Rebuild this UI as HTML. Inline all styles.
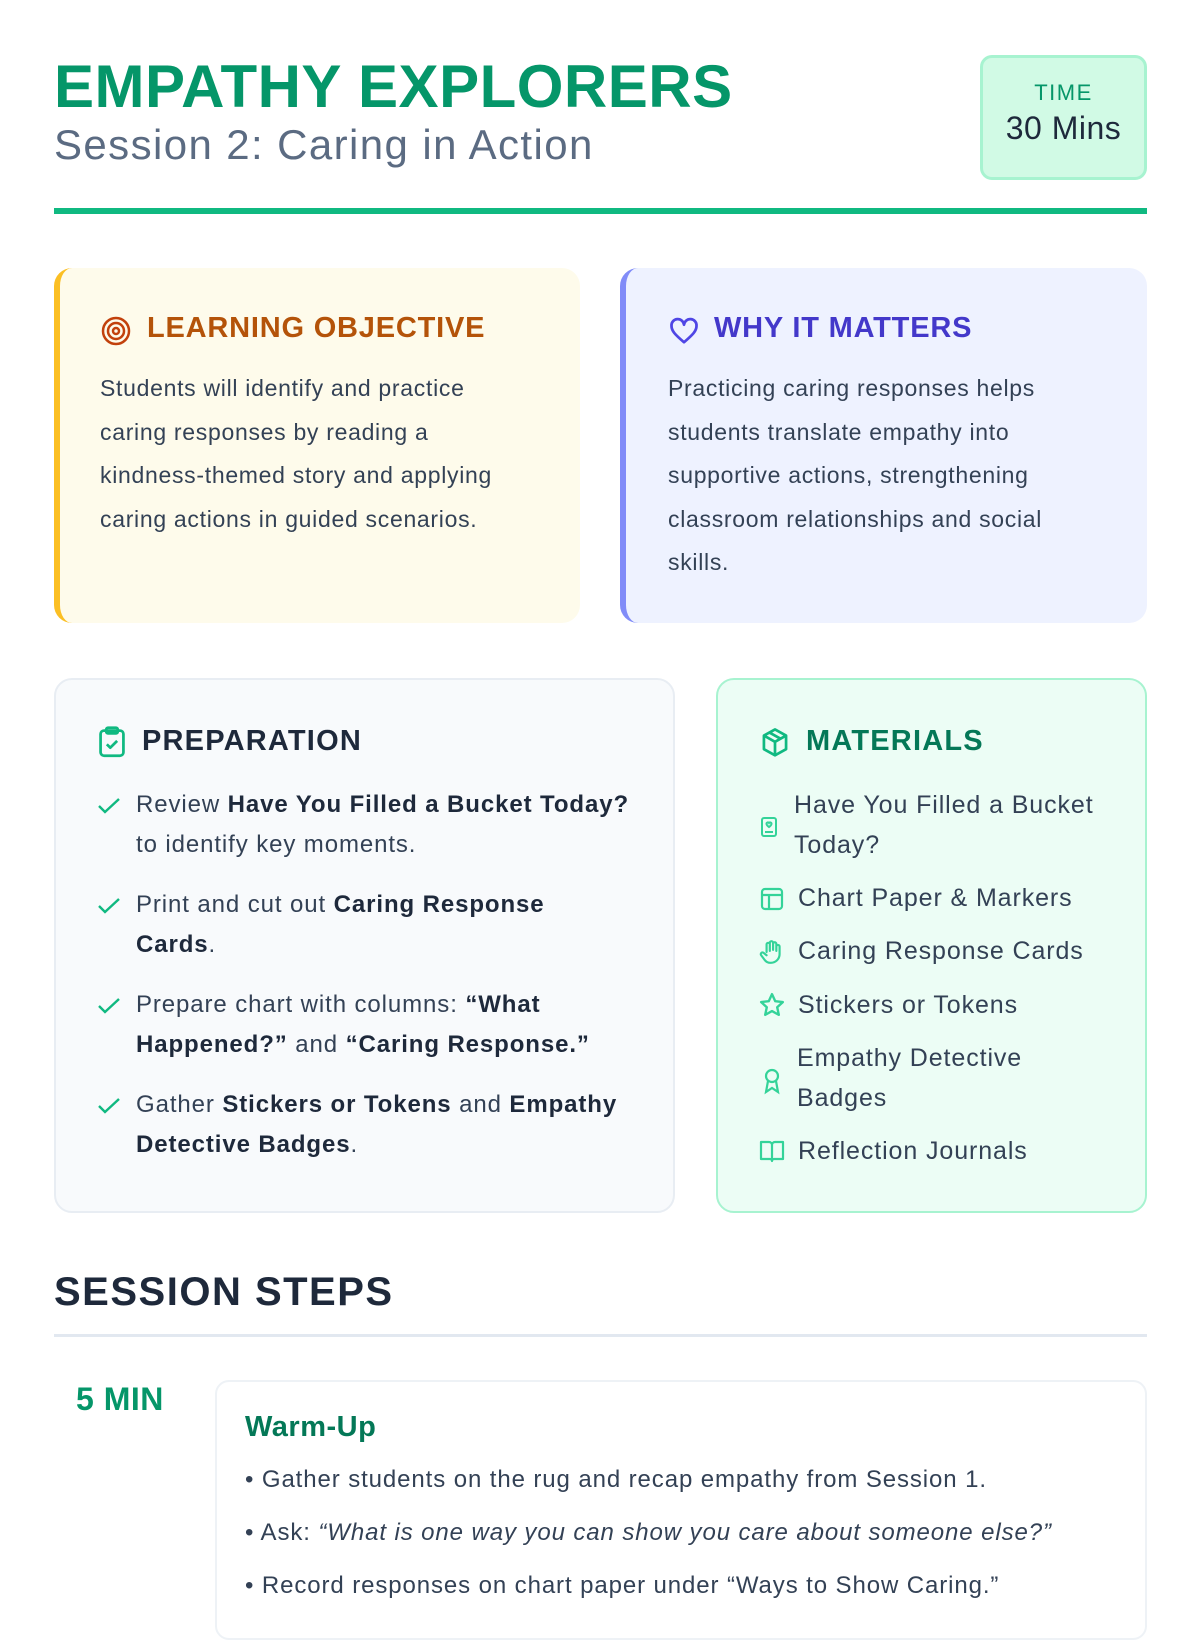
<!DOCTYPE html>
<html><head><meta charset="utf-8"><style>
*{margin:0;padding:0;box-sizing:border-box}
body{width:1200px;height:1600px;overflow:hidden;background:#fff;font-family:"Liberation Sans",sans-serif;color:#334155;position:relative}
.a{position:absolute}
.card{position:absolute;border-radius:18px}
.h{position:absolute;font-size:29px;font-weight:bold;letter-spacing:0.8px;white-space:nowrap}
.t{position:absolute;font-size:23px;line-height:43.5px;color:#334155;letter-spacing:0.7px;white-space:nowrap}
.li{position:absolute;font-size:24px;line-height:40px;color:#334155;letter-spacing:0.9px;white-space:nowrap}
.li b{color:#1e293b}
svg{position:absolute}
</style></head><body>
<div class="a" style="left:54px;top:52px;font-size:60px;font-weight:bold;color:#059669;letter-spacing:0.5px;white-space:nowrap">EMPATHY EXPLORERS</div>
<div class="a" style="left:54px;top:121px;font-size:42px;color:#5b6b82;letter-spacing:1.4px;white-space:nowrap">Session 2: Caring in Action</div>
<div class="a" style="left:980px;top:55px;width:167px;height:125px;background:#d1fae5;border:3px solid #a7f3d0;border-radius:12px;text-align:center">
<div style="margin-top:22px;font-size:22px;color:#059669;letter-spacing:1.5px">TIME</div>
<div style="margin-top:4px;font-size:32px;color:#1e293b;letter-spacing:0.5px">30 Mins</div></div>
<div class="a" style="left:54px;top:208px;width:1093px;height:6px;background:#10b981"></div>

<div class="card" style="left:54px;top:268px;width:526px;height:355px;background:#fefbeb;border-left:6px solid #fbbf24"></div>
<svg style="left:100px;top:315px" width="32" height="32" viewBox="0 0 32 32" fill="none" stroke="#c2410c" stroke-width="2.5"><circle cx="16" cy="16" r="13"/><circle cx="16" cy="16" r="8"/><circle cx="16" cy="16" r="3"/></svg>
<div class="h" style="left:147px;top:312px;color:#b45309">LEARNING OBJECTIVE</div>
<div class="t" style="left:100px;top:367px">Students will identify and practice<br>caring responses by reading a<br>kindness-themed story and applying<br>caring actions in guided scenarios.</div>

<div class="card" style="left:620px;top:268px;width:527px;height:355px;background:#eef2ff;border-left:6px solid #818cf8"></div>
<svg style="left:668px;top:316px" width="32" height="30" viewBox="0 0 24 24" fill="none" stroke="#4f46e5" stroke-width="2.2" stroke-linejoin="round"><path d="M12 21C5 15 2 12 2 8a5 5 0 0 1 10-1 5 5 0 0 1 10 1c0 4-3 7-10 13z"/></svg>
<div class="h" style="left:714px;top:312px;color:#4338ca">WHY IT MATTERS</div>
<div class="t" style="left:668px;top:367px">Practicing caring responses helps<br>students translate empathy into<br>supportive actions, strengthening<br>classroom relationships and social<br>skills.</div>

<div class="card" style="left:54px;top:678px;width:621px;height:535px;background:#f8fafc;border:2px solid #e8edf3"></div>
<svg style="left:98px;top:726px" width="28" height="32" viewBox="0 0 24 28" fill="none" stroke="#10b981" stroke-width="2.4" stroke-linejoin="round"><rect x="2" y="4" width="20" height="22" rx="3"/><rect x="7" y="1.5" width="10" height="5" rx="1.5"/><path d="M7.5 16l3 3 6-6"/></svg>
<div class="h" style="left:142px;top:725px;color:#1e293b;font-weight:600;letter-spacing:1.2px">PREPARATION</div>
<div class="li" style="left:136px;top:785px">Review <b>Have You Filled a Bucket Today?</b><br>to identify key moments.</div>
<div class="li" style="left:136px;top:885px">Print and cut out <b>Caring Response</b><br><b>Cards</b>.</div>
<div class="li" style="left:136px;top:985px">Prepare chart with columns: <b>“What</b><br><b>Happened?”</b> and <b>“Caring Response.”</b></div>
<div class="li" style="left:136px;top:1085px">Gather <b>Stickers or Tokens</b> and <b>Empathy</b><br><b>Detective Badges</b>.</div>
<svg style="left:97px;top:796px" width="24" height="20" viewBox="0 0 24 20" fill="none" stroke="#10b981" stroke-width="2.4"><path d="M2 10l6 6L22 3"/></svg>
<svg style="left:97px;top:896px" width="24" height="20" viewBox="0 0 24 20" fill="none" stroke="#10b981" stroke-width="2.4"><path d="M2 10l6 6L22 3"/></svg>
<svg style="left:97px;top:996px" width="24" height="20" viewBox="0 0 24 20" fill="none" stroke="#10b981" stroke-width="2.4"><path d="M2 10l6 6L22 3"/></svg>
<svg style="left:97px;top:1096px" width="24" height="20" viewBox="0 0 24 20" fill="none" stroke="#10b981" stroke-width="2.4"><path d="M2 10l6 6L22 3"/></svg>

<div class="card" style="left:716px;top:678px;width:431px;height:535px;background:#ecfdf5;border:2px solid #a7f3d0"></div>
<svg style="left:760px;top:727px" width="30" height="32" viewBox="0 0 24 26" fill="none" stroke="#10b981" stroke-width="2.2" stroke-linejoin="round"><path d="M12 2l9 5v11l-9 5-9-5V7z"/><path d="M3 7l9 5 9-5M12 12v11M7.5 4.5l9 5"/></svg>
<div class="h" style="left:806px;top:725px;color:#047857;letter-spacing:1.2px">MATERIALS</div>
<div class="li" style="left:794px;top:785px;font-size:25px">Have You Filled a Bucket<br>Today?</div>
<div class="li" style="left:798px;top:878px;font-size:25px">Chart Paper &amp; Markers</div>
<div class="li" style="left:798px;top:931px;font-size:25px">Caring Response Cards</div>
<div class="li" style="left:798px;top:985px;font-size:25px">Stickers or Tokens</div>
<div class="li" style="left:797px;top:1038px;font-size:25px">Empathy Detective<br>Badges</div>
<div class="li" style="left:798px;top:1131px;font-size:25px">Reflection Journals</div>
<svg style="left:760px;top:816px" width="18" height="22" viewBox="0 0 18 22" fill="none" stroke="#34d399" stroke-width="2"><rect x="2" y="2" width="14" height="18" rx="2"/><path d="M5 16h8M9 11c-3-2-3-4-1.5-4.5 1-.3 1.5.5 1.5.5s.5-.8 1.5-.5C12 7 12 9 9 11z"/></svg>
<svg style="left:760px;top:887px" width="24" height="24" viewBox="0 0 24 24" fill="none" stroke="#34d399" stroke-width="2.2"><rect x="2" y="2" width="20" height="20" rx="3"/><path d="M2 8h20M9 8v14"/></svg>
<svg style="left:759px;top:939px" width="26" height="26" viewBox="0 0 24 24" fill="none" stroke="#34d399" stroke-width="2" stroke-linecap="round"><path d="M7 12V5a1.5 1.5 0 0 1 3 0v6M10 10V3.5a1.5 1.5 0 0 1 3 0V10M13 10V4.5a1.5 1.5 0 0 1 3 0V11M16 11V7a1.5 1.5 0 0 1 3 0v7a8 8 0 0 1-8 8 7 7 0 0 1-6-3l-3-4a1.5 1.5 0 0 1 2.5-2L7 15"/></svg>
<svg style="left:759px;top:992px" width="26" height="26" viewBox="0 0 24 24" fill="none" stroke="#34d399" stroke-width="2.2" stroke-linejoin="round"><path d="M12 2l3 6.5 7 .8-5.2 4.8 1.5 7L12 17.6 5.7 21.1l1.5-7L2 9.3l7-.8z"/></svg>
<svg style="left:762px;top:1068px" width="20" height="28" viewBox="0 0 20 28" fill="none" stroke="#34d399" stroke-width="2.2"><circle cx="10" cy="8" r="6"/><path d="M6 13l-2 11 6-4 6 4-2-11"/></svg>
<svg style="left:759px;top:1139px" width="26" height="24" viewBox="0 0 26 24" fill="none" stroke="#34d399" stroke-width="2.2" stroke-linejoin="round"><path d="M2 3h8a3 3 0 0 1 3 3v16a2 2 0 0 0-2-2H2zM24 3h-8a3 3 0 0 0-3 3v16a2 2 0 0 1 2-2h9z"/></svg>

<div class="a" style="left:54px;top:1270px;font-size:40px;font-weight:bold;color:#1e293b;letter-spacing:1.5px">SESSION STEPS</div>
<div class="a" style="left:54px;top:1334px;width:1093px;height:3px;background:#e2e8f0"></div>
<div class="a" style="left:76px;top:1381px;font-size:32px;font-weight:600;color:#059669;letter-spacing:0.5px">5 MIN</div>
<div class="card" style="left:215px;top:1380px;width:932px;height:260px;background:#fff;border:2px solid #eef2f6;border-radius:14px"></div>
<div class="a" style="left:245px;top:1411px;font-size:29px;font-weight:600;color:#047857;letter-spacing:0.5px">Warm-Up</div>
<div class="li" style="left:245px;top:1460px">• Gather students on the rug and recap empathy from Session 1.</div>
<div class="li" style="left:245px;top:1513px">• Ask: <i>“What is one way you can show you care about someone else?”</i></div>
<div class="li" style="left:245px;top:1566px">• Record responses on chart paper under “Ways to Show Caring.”</div>
</body></html>
